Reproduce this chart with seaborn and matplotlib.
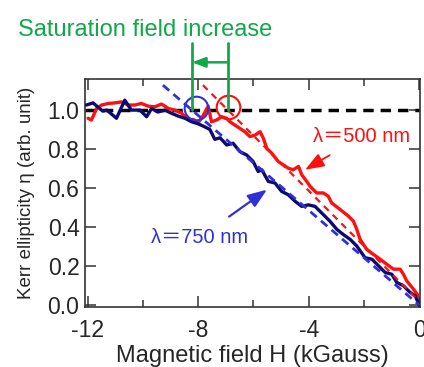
import numpy as np
import pandas as pd
import matplotlib.pyplot as plt
import seaborn as sns

# Kerr ellipticity vs field
h_500 = [-11.99, -11.87, -11.68, -11.50, -11.26, -11.02, -10.78, -10.54, -10.30, -10.06,
         -9.81, -9.57, -9.33, -9.09, -8.85, -8.60, -8.42, -8.24, -8.18, -8.00,
         -7.83, -7.64, -7.52, -7.34, -7.15, -6.97, -6.85, -6.67, -6.49, -6.31,
         -6.13, -5.94, -5.76, -5.64, -5.52, -5.34, -5.10, -4.92, -4.74, -4.56,
         -4.37, -4.25, -4.07, -3.95, -3.71, -3.47, -3.29, -3.17, -2.86, -2.56,
         -2.38, -2.26, -2.14, -1.90, -1.66, -1.41, -1.17, -0.93, -0.69, -0.57,
         -0.45, -0.21, -0.03]
k_500 = [0.958, 0.949, 1.008, 1.026, 1.034, 1.037, 1.042, 1.026, 1.026, 1.034,
         1.020, 1.017, 1.031, 1.009, 1.000, 0.984, 0.958, 0.949, 0.952, 0.935,
         0.970, 1.020, 0.940, 0.949, 0.966, 0.958, 0.940, 0.923, 0.906, 0.889,
         0.864, 0.872, 0.889, 0.855, 0.804, 0.779, 0.736, 0.719, 0.702, 0.694,
         0.711, 0.668, 0.634, 0.609, 0.575, 0.575, 0.558, 0.524, 0.490, 0.456,
         0.430, 0.389, 0.337, 0.286, 0.260, 0.235, 0.209, 0.184, 0.184, 0.158,
         0.124, 0.082, 0.048]

h_750 = [-12.05, -11.81, -11.46, -11.31, -10.96, -10.66, -10.42, -10.11, -9.87, -9.69,
         -9.46, -9.21, -8.97, -8.74, -8.48, -8.24, -8.01, -7.82, -7.58, -7.40,
         -7.21, -6.97, -6.74, -6.49, -6.25, -6.01, -5.83, -5.70, -5.46, -5.22,
         -4.98, -4.74, -4.49, -4.25, -4.01, -3.77, -3.47, -3.23, -2.98, -2.74,
         -2.50, -2.26, -1.96, -1.71, -1.47, -1.23, -0.99, -0.81, -0.57, -0.33,
         -0.14, 0.0]
k_750 = [1.026, 1.037, 0.995, 1.000, 0.958, 1.051, 1.000, 1.000, 0.966, 1.008,
         0.990, 1.000, 0.984, 0.970, 0.958, 0.940, 0.930, 0.918, 0.901, 0.850,
         0.858, 0.821, 0.830, 0.787, 0.770, 0.736, 0.685, 0.694, 0.634, 0.626,
         0.583, 0.566, 0.532, 0.506, 0.514, 0.506, 0.464, 0.430, 0.388, 0.361,
         0.337, 0.303, 0.243, 0.235, 0.201, 0.167, 0.158, 0.116, 0.099, 0.065,
         0.047, 0.0]

# linear fits (dashed) and saturation fields
fit_500_h = [-7.83, 0.0]
fit_500_k = [1.128, 0.02]
fit_750_h = [-9.28, 0.0]
fit_750_k = [1.128, 0.0]
hsat_500 = -6.92
hsat_750 = -8.23

red = "#ff1010"
navy = "#0c0c70"
blue = "#3030d8"
green = "#10a848"

sns.set_style("ticks")
plt.rcParams["font.family"] = ["Liberation Sans", "Noto Sans CJK JP", "DejaVu Sans"]

fig = plt.figure(figsize=(4.24, 3.67), dpi=100)
ax = fig.add_axes([0.2005, 0.1635, 0.79, 0.6215])

df500 = pd.DataFrame({"H": h_500, "K": k_500})
df750 = pd.DataFrame({"H": h_750, "K": k_750})

ax.axhline(1.0, color="black", lw=2.5, ls=(0, (3, 2)), zorder=1)
sns.lineplot(data=df500, x="H", y="K", ax=ax, color=red, lw=2.4, sort=False, estimator=None, zorder=3)
sns.lineplot(data=df750, x="H", y="K", ax=ax, color=navy, lw=2.4, sort=False, estimator=None, zorder=4)
ax.plot(fit_500_h, fit_500_k, color=red, lw=1.6, ls=(0, (3, 2.5)), zorder=5)
ax.plot(fit_750_h, fit_750_k, color=blue, lw=2.0, ls=(0, (3, 2)), zorder=5)

# circles at saturation points
ax.plot([hsat_750 + 0.15], [1.01], marker="o", ms=17, mfc="none", mec=blue, mew=1.5, zorder=6)
ax.plot([hsat_500], [1.015], marker="o", ms=17, mfc="none", mec=red, mew=1.5, zorder=6)

# green markers showing the shift
for hs in [hsat_750, hsat_500]:
    ax.plot([hs, hs], [1.0, 1.342], color=green, lw=2.0, clip_on=False, zorder=7)
ax.annotate("", xy=(hsat_750, 1.245), xytext=(hsat_500, 1.245), annotation_clip=False,
            arrowprops=dict(arrowstyle="-|>,head_length=0.8,head_width=0.3", color=green, lw=1.8,
                            shrinkA=0, shrinkB=0))
fig.text(0.343, 0.918, "Saturation field increase", color=green, fontsize=17, ha="center", va="center")

# wavelength labels
ax.annotate("λ＝500 nm", xy=(-4.13, 0.694), xytext=(-2.07, 0.867), color=red, fontsize=14.5,
            ha="center", va="center",
            arrowprops=dict(arrowstyle="-|>,head_length=0.8,head_width=0.3", color=red, lw=1.3,
                            shrinkA=9, shrinkB=0))
ax.annotate("λ＝750 nm", xy=(-5.51, 0.592), xytext=(-7.94, 0.347), color=blue, fontsize=14.5,
            ha="center", va="center",
            arrowprops=dict(arrowstyle="-|>,head_length=0.8,head_width=0.3", color=blue, lw=1.6,
                            shrinkA=10, shrinkB=0))

ax.set_xlim(-12.1, 0.03)
ax.set_ylim(-0.01, 1.16)
ax.set_xticks([-12, -8, -4, 0])
ax.set_xticks([-10, -6, -2], minor=True)
ax.set_xticklabels(["-12", "-8", "-4", "0"])
ax.set_yticks([0.0, 0.2, 0.4, 0.6, 0.8, 1.0])
ax.set_yticklabels(["0.0", "0.2", "0.4", "0.6", "0.8", "1.0"])
ax.tick_params(which="both", direction="in", top=True, right=True, color="#333333", width=1.1)
ax.tick_params(which="major", length=8, labelsize=16.5)
ax.tick_params(axis="y", which="major", pad=4)
ax.tick_params(axis="x", which="major", pad=9)
ax.tick_params(which="minor", length=5)
for s in ax.spines.values():
    s.set_color("#333333")
    s.set_linewidth(1.2)

ax.set_xlabel("Magnetic field H (kGauss)", fontsize=17, labelpad=2)
ax.set_ylabel("Kerr ellipticity η (arb. unit)", fontsize=13.5, labelpad=9)

fig.savefig("out.png", dpi=100)
plt.close(fig)
